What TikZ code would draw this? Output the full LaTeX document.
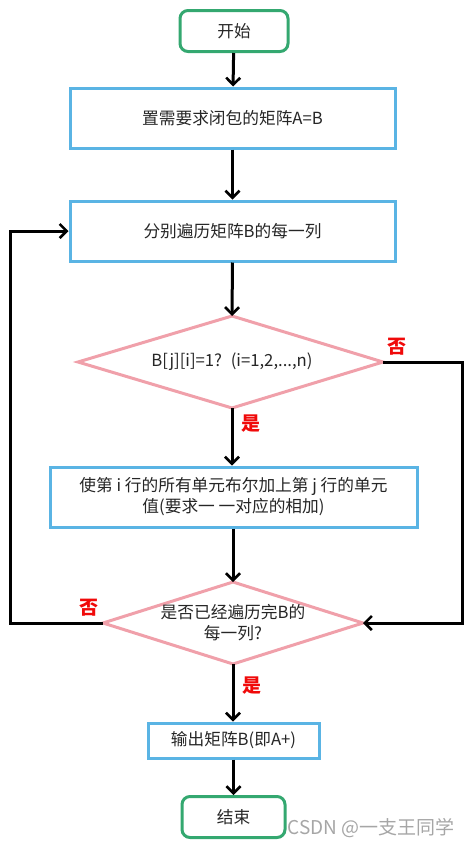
\documentclass[tikz,border=0pt]{standalone}
\usepackage{fontspec}
\setmainfont{Noto Sans CJK SC}
\usetikzlibrary{arrows.meta,shapes.geometric}
\definecolor{termgreen}{RGB}{52,168,112}
\definecolor{procblue}{RGB}{90,180,228}
\definecolor{decpink}{RGB}{240,160,170}
\definecolor{labred}{RGB}{240,10,10}
\begin{document}
\begin{tikzpicture}[x=1pt,y=-1pt,
  every node/.style={font=\fontsize{16.7}{21}\selectfont, text=black!85},
  term/.style={draw=termgreen, line width=3pt, rounded corners=8pt, fill=white, minimum width=#1, minimum height=41pt, inner sep=0pt},
  proc/.style={draw=procblue, line width=3pt, fill=white, inner sep=0pt, align=center},
  dec/.style={draw=decpink, line width=3pt, fill=white, inner sep=0pt},
  conn/.style={line width=3pt, black, -{Straight Barb[length=7pt,width=14pt,line width=2.6pt]}},
  yn/.style={text=labred, font=\fontsize{19}{21}\selectfont\bfseries}
]
\useasboundingbox (0,0) rectangle (470,847);
\node[term=108pt] (start) at (234,31) {开始};
\node[proc, minimum width=325pt, minimum height=60pt] (p1) at (232.5,118) {置需要求闭包的矩阵A=B};
\node[proc, minimum width=325pt, minimum height=60pt] (p2) at (232.5,231) {分别遍历矩阵B的每一列};
\draw[dec] (78,362) -- (232,316) -- (383,362) -- (232,408) -- cycle;
\node (d1) at (232,362) {B[j][i]=1?~ (i=1,2,...,n)};
\coordinate (d1t) at (232,316);
\coordinate (d1b) at (232,408);
\coordinate (d1r) at (383,362);
\node[proc, minimum width=367pt, minimum height=60pt] (p3) at (233.5,497) {使第 i 行的所有单元布尔加上第 j 行的单元\\值(要求一 一对应的相加)};
\draw[dec] (103,623) -- (233,582) -- (363,623) -- (233,664) -- cycle;
\node[align=center] (d2) at (233,623) {是否已经遍历完B的\\每一列?};
\coordinate (d2t) at (233,582);
\coordinate (d2b) at (233,664);
\coordinate (d2l) at (103,623);
\coordinate (d2r) at (363,623);
\node[proc, minimum width=171pt, minimum height=35pt] (p4) at (233.5,740.5) {输出矩阵B(即A+)};
\node[term=103pt] (end) at (233.5,817) {结束};

\draw[conn] (start) -- (p1);
\draw[conn] (p1) -- (p2);
\draw[conn] (p2.south) -- (d1t);
\draw[conn] (d1b) -- (p3.north -| d1b);
\draw[conn] (p3.south -| d2t) -- (d2t);
\draw[conn] (d2b) -- (p4.north -| d2b);
\draw[conn] (p4.south -| end) -- (end);
\draw[conn] (d1r) -- (462,362) -- (462,623) -- (d2r);
\draw[conn] (d2l) -- (10,623) -- (10,231) -- (p2.west);

\node[yn] (n1) at (397,347) {否};
\node[yn] (y1) at (251,424) {是};
\node[yn] (n2) at (89,608) {否};
\node[yn] (y2) at (252,686) {是};
\node[text=black!35, font=\fontsize{19}{21}\selectfont] (wm) at (371,828) {CSDN @一支王同学};
\end{tikzpicture}
\end{document}
